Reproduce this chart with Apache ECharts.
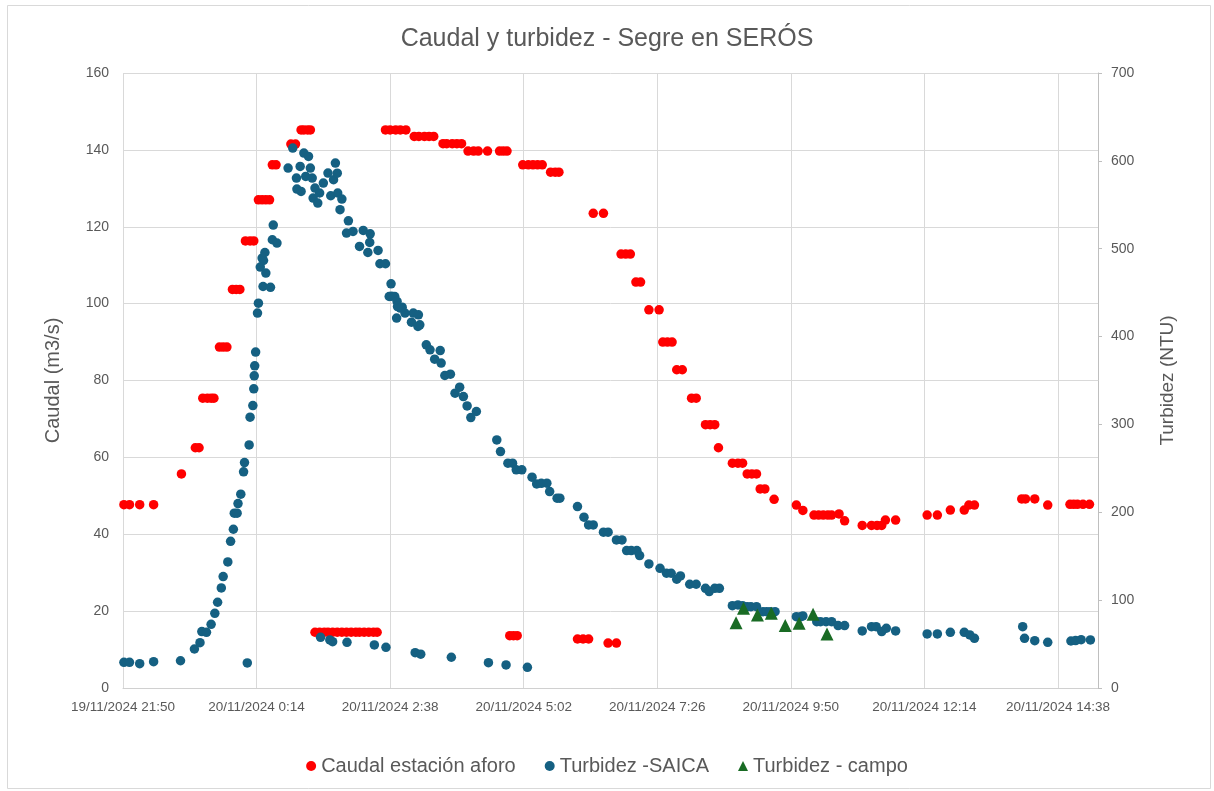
<!DOCTYPE html>
<html>
<head>
<meta charset="utf-8">
<script src="https://cdn.jsdelivr.net/npm/echarts@6/dist/echarts.min.js"></script>
<style>
  html, body { margin: 0; padding: 0; background: #fff; }
  #chart { width: 1214px; height: 791px; }
</style>
</head>
<body>
<div id="chart"></div>
<script>
// x = minutes after 19/11/2024 21:50
const caudal = [
  [1, 47.7], [7, 47.7], [18, 47.7], [33, 47.7], [63, 55.7],
  [78, 62.5], [82, 62.5],
  [86, 75.4], [91, 75.4], [95, 75.4], [98, 75.4],
  [104, 88.7], [108, 88.7], [112, 88.7],
  [118, 103.7], [122, 103.7], [126, 103.7],
  [132, 116.3], [137, 116.3], [141, 116.3],
  [146, 127], [150, 127], [154, 127], [158, 127],
  [161, 136.1], [165, 136.1],
  [181, 141.5], [186, 141.5],
  [192, 145.2], [195, 145.2], [199, 145.2], [202, 145.2],
  [207, 14.5], [212, 14.5], [217, 14.5], [221, 14.5], [226, 14.5], [231, 14.5], [236, 14.5], [241, 14.5],
  [246, 14.5], [251, 14.5], [255, 14.5], [260, 14.5], [265, 14.5], [270, 14.5], [274, 14.5],
  [283, 145.2], [288, 145.2], [294, 145.2], [299, 145.2], [305, 145.2],
  [314, 143.5], [319, 143.5], [325, 143.5], [330, 143.5], [335, 143.5],
  [345, 141.6], [349, 141.6], [355, 141.6], [360, 141.6], [365, 141.6],
  [372, 139.7], [378, 139.7], [383, 139.7], [393, 139.7], [406, 139.7], [410, 139.7], [414, 139.7],
  [417, 13.6], [421, 13.6], [425, 13.6],
  [431, 136.1], [437, 136.1], [442, 136.1], [447, 136.1], [452, 136.1],
  [461, 134.2], [466, 134.2], [470, 134.2],
  [490, 12.75], [496, 12.75], [502, 12.75],
  [507, 123.5], [518, 123.5],
  [523, 11.7], [532, 11.7],
  [537, 112.9], [542, 112.9], [547, 112.9],
  [553, 105.6], [558, 105.6],
  [567, 98.4], [578, 98.4],
  [582, 90], [587, 90], [592, 90],
  [597, 82.8], [603, 82.8],
  [613, 75.4], [618, 75.4],
  [628, 68.5], [633, 68.5], [638, 68.5],
  [642, 62.5],
  [657, 58.5], [663, 58.5], [668, 58.5],
  [673, 55.7], [678, 55.7], [683, 55.7],
  [687, 51.8], [692, 51.8],
  [702, 49.1],
  [726, 47.6], [733, 46.2],
  [745, 45], [750, 45], [755, 45], [760, 45], [764, 45],
  [772, 45.3], [778, 43.5],
  [797, 42.3], [807, 42.3], [813, 42.3], [818, 42.3],
  [822, 43.7], [833, 43.7],
  [867, 45], [878, 45],
  [892, 46.3], [907, 46.3], [912, 47.6], [918, 47.6],
  [969, 49.2], [973, 49.2], [983, 49.2],
  [997, 47.6],
  [1021, 47.8], [1025, 47.8], [1029, 47.8], [1035, 47.8], [1042, 47.8]
];

const turbSaica = [
  [1, 29.2], [7, 29.2], [18, 27.7], [33, 30], [62, 31],
  [77, 44.4], [83, 51.6], [85, 64.2], [90, 63.4], [95, 72.5], [99, 85], [102, 97.6],
  [106, 113.9], [108, 126.8], [113, 143.5], [116, 167], [119, 180.7], [120, 199], [123, 199],
  [124, 209.9], [127, 220.6], [130, 246], [131, 256.6], [134, 28.5], [136, 276.7], [137, 308.3],
  [140, 321.5], [141, 340.5], [141.5, 355.3], [142, 366.7], [143, 382.3], [145, 426.7], [146, 438],
  [148, 479.1], [150, 489.3], [151, 457], [151.5, 486.6], [153, 495.7], [154, 472.3], [159, 456],
  [161, 510.2], [162, 526.9], [166, 506.4],
  [178, 591.8], [183, 614.6], [187, 580.4], [187.5, 567.9], [191, 593.7], [192, 565.2],
  [195, 608.9], [197, 582.3], [200, 605.1], [202, 591.8], [204, 580.4], [205, 557.7],
  [207, 569], [210, 552], [212, 563.4], [213, 57.7], [216, 574.7], [221, 586.1], [223, 54.7],
  [224, 560.3], [226, 52.7], [227, 578.5], [229, 597.5], [231, 586], [231.5, 563.4],
  [234, 544.4], [236, 556.5], [241, 517.8], [241.5, 52], [243, 531.8], [248, 519.7],
  [255, 502.6], [259, 520.8], [264, 495.7], [266, 507.1], [266.5, 517], [271, 49],
  [275, 498], [277, 482.9], [283, 482.9], [283.5, 46.3], [287, 445.6], [289, 460.1], [289.5, 446],
  [293, 445.6], [295, 421], [295.5, 440], [296, 434.2], [299, 432.4], [301, 433.5],
  [304, 426.7], [311, 416.4], [313, 426.7], [315, 40.2], [318, 411.5], [318.5, 424.8],
  [320, 413.4], [321, 38.5], [327, 390.6], [331, 384.9], [336, 374.3], [342, 384.1],
  [343, 369.8], [347, 355.7], [353, 357.2], [354, 35], [358, 335.6], [363, 342.4],
  [367, 331.7], [371, 321.1], [375, 307.8], [381, 314.7], [394, 28.8],
  [403, 282.4], [407, 269.1], [413, 26.2], [415, 255.9], [420, 255.9], [424, 248.3],
  [430, 248.3], [436, 23.5], [441, 240], [446, 232.3], [451, 233], [457, 233.1],
  [460, 223.6], [468, 216], [471, 216],
  [490, 206.5], [497, 194.4], [502, 185.6], [507, 185.6], [518, 177.3], [523, 177.3],
  [532, 168.5], [538, 168.5], [543, 156.4], [548, 156.4], [554, 156.4], [557, 150.7],
  [567, 141.2], [579, 136.2], [586, 130.6], [591, 130.6], [597, 123.8], [601, 127.5],
  [611, 118.1], [618, 118.1], [628, 113.5], [632, 109.7], [638, 113.5], [643, 113.5],
  [657, 93.7], [663, 94.5], [668, 93.7], [673, 92.6], [677, 92.6], [683, 92.6],
  [690, 86.9], [694, 86.9], [698, 86.9], [703, 86.9],
  [726, 81.2], [731, 81.2], [733, 82],
  [748, 75.5], [752, 75.5], [758, 75.5], [764, 75.5], [771, 71], [778, 71],
  [797, 64.9], [807, 69.8], [812, 69.8], [818, 64.2], [823, 68], [833, 64.9],
  [867, 61.5], [878, 61.5], [892, 63.4], [907, 63.4], [913, 60.4], [918, 56.6],
  [970, 69.8], [972, 56.6], [983, 53.9], [997, 52],
  [1022, 53.5], [1027, 54], [1033, 55], [1043, 54.7]
];

const turbCampo = [
  [661, 74.4], [669, 90.8], [684, 83.1], [699, 85],
  [714, 71], [729, 73.7], [744, 83.9], [759, 61.5]
];

const caudalTicks = [0, 160, 20];
const ntuTicks = [0, 700, 100];
const timeTicks = [0, 1051.2, 144];

function timeLabel(m) {
  var t = 21 * 60 + 50 + Math.round(m);
  var day = 19 + Math.floor(t / 1440);
  var r = t % 1440;
  return day + '/11/2024 ' + Math.floor(r / 60) + ':' + String(r % 60).padStart(2, '0');
}

var chart = echarts.init(document.getElementById('chart'));
var txt = '#595959';
var font = "'Liberation Sans', Arial, sans-serif";

var option = {
  backgroundColor: '#fff',
  textStyle: { fontFamily: font },
  animation: false,
  title: {
    text: 'Caudal y turbidez - Segre en SERÓS',
    left: 'center',
    top: 22,
    textStyle: { color: txt, fontSize: 25, fontWeight: 'normal', fontFamily: font }
  },
  graphic: [{
    type: 'rect',
    shape: { x: 7.5, y: 5.5, width: 1203, height: 783 },
    style: { fill: 'none', stroke: '#D9D9D9', lineWidth: 1 },
    silent: true
  }],
  legend: {
    bottom: 10,
    left: 'center',
    itemWidth: 10,
    itemHeight: 10,
    itemGap: 29,
    textStyle: { color: txt, fontSize: 20, fontFamily: font },
    data: [
      { name: 'Caudal estación aforo', icon: 'circle' },
      { name: 'Turbidez -SAICA', icon: 'circle' },
      { name: 'Turbidez - campo', icon: 'triangle' }
    ]
  },
  grid: { left: 123, right: 116, top: 73, bottom: 103, containLabel: false },
  xAxis: {
    type: 'value',
    min: timeTicks[0],
    max: timeTicks[1],
    interval: timeTicks[2],
    axisLine: { show: true, lineStyle: { color: '#D0D0D0' } },
    axisTick: { show: false },
    splitLine: { show: true, lineStyle: { color: '#D9D9D9' } },
    axisLabel: {
      color: txt, fontSize: 13.5, margin: 12, showMaxLabel: false,
      formatter: function (v) { return v % 144 === 0 ? timeLabel(v) : ''; }
    }
  },
  yAxis: [{
    type: 'value',
    min: caudalTicks[0],
    max: caudalTicks[1],
    interval: caudalTicks[2],
    name: 'Caudal (m3/s)',
    nameLocation: 'middle',
    nameGap: 60,
    nameTextStyle: { color: txt, fontSize: 20 },
    axisLine: { show: false },
    axisTick: { show: false },
    axisLabel: { color: txt, fontSize: 14, margin: 14 },
    splitLine: { show: true, lineStyle: { color: '#D9D9D9' } }
  }, {
    type: 'value',
    position: 'right',
    min: ntuTicks[0],
    max: ntuTicks[1],
    interval: ntuTicks[2],
    name: 'Turbidez (NTU)',
    nameLocation: 'middle',
    nameRotate: 90,
    nameGap: 60,
    nameTextStyle: { color: txt, fontSize: 19 },
    axisLine: { show: true, lineStyle: { color: '#BFBFBF' } },
    axisTick: { show: true, length: 4, lineStyle: { color: '#BFBFBF' } },
    axisLabel: { color: txt, fontSize: 14, margin: 13 },
    splitLine: { show: false }
  }],
  series: [{
    name: 'Caudal estación aforo',
    type: 'scatter',
    yAxisIndex: 0,
    symbol: 'circle',
    symbolSize: 9.5,
    itemStyle: { color: '#FF0000', opacity: 1 },
    data: caudal
  }, {
    name: 'Turbidez -SAICA',
    type: 'scatter',
    yAxisIndex: 1,
    symbol: 'circle',
    symbolSize: 9.5,
    itemStyle: { color: '#156082', opacity: 1 },
    data: turbSaica
  }, {
    name: 'Turbidez - campo',
    type: 'scatter',
    yAxisIndex: 1,
    symbol: 'triangle',
    symbolSize: 13,
    itemStyle: { color: '#196B24', opacity: 1 },
    data: turbCampo
  }]
};

chart.setOption(option);

window.onresize = function () {
  chart.resize();
};
</script>
</body>
</html>
